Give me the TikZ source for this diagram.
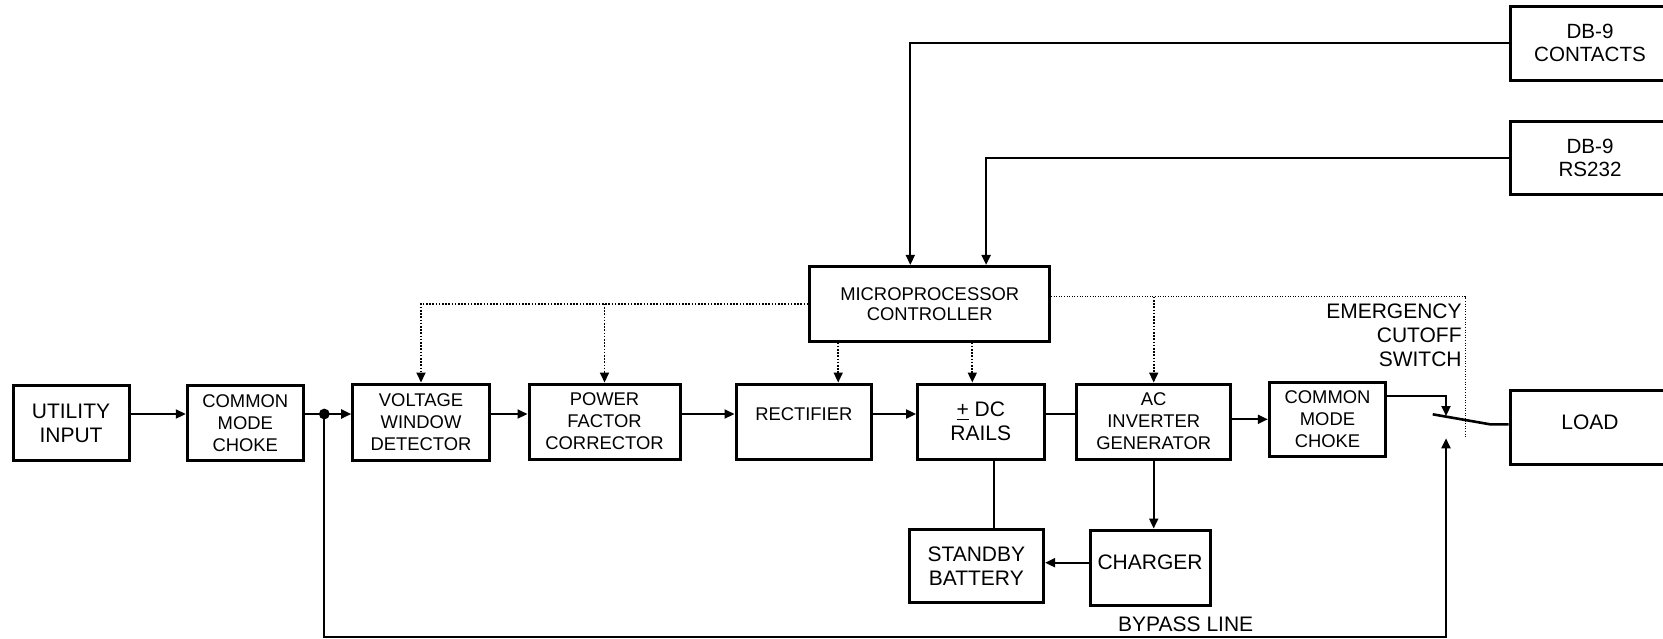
\documentclass[tikz,border=0pt]{standalone}
\usepackage{fontspec}
\setmainfont{Liberation Sans}
\usetikzlibrary{arrows.meta}
\begin{document}
\begin{tikzpicture}[x=0.5pt,y=-0.5pt,
    blocco/.style={draw, line width=1.5pt, align=center, inner sep=1pt, minimum height=37.5pt, font=\fontsize{9.2pt}{11pt}\selectfont},
    grande/.style={font=\fontsize{10.5pt}{12pt}\selectfont},
    filo/.style={line width=1pt},
    freccia/.style={filo, -{Triangle[length=5pt,width=4.5pt]}},
    ctrl/.style={freccia, line width=0.9pt, dash pattern=on 0.8pt off 0.8pt},
    fine/.style={line width=0.5pt, dash pattern=on 0.5pt off 0.8pt}]
    \useasboundingbox (0,0) rectangle (1663,638);

    % Nodi
    \node[blocco, grande, minimum width=58pt] (util) at (71,423) {UTILITY\\INPUT};
    \node[blocco, minimum width=58pt] (choke1) at (245.3,422.7) {COMMON\\MODE\\CHOKE};
    \node[blocco, minimum width=68.3pt, minimum height=38pt] (vwd) at (421,422) {VOLTAGE\\WINDOW\\DETECTOR};
    \node[blocco, minimum width=75.5pt] (pfc) at (604.5,421.5) {POWER\\FACTOR\\CORRECTOR};
    \node[blocco, minimum width=67.8pt, text depth=7.5pt] (rect) at (803.8,421.5) {RECTIFIER};
    \node[blocco, grande, minimum width=63.2pt] (dc) at (980.8,421.5) {\underline{+} DC\\RAILS};
    \node[blocco, minimum width=77pt] (inv) at (1153.7,421.5) {AC\\INVERTER\\GENERATOR};
    \node[blocco, minimum width=58.2pt, minimum height=37.3pt] (choke2) at (1327.5,419.3) {COMMON\\MODE\\CHOKE};
    \node[blocco, grande, minimum width=80pt, minimum height=36.8pt, text depth=5pt] (load) at (1590,427.5) {LOAD};
    \node[blocco, minimum width=119.8pt, minimum height=37.3pt, font=\fontsize{9.2pt}{10pt}\selectfont] (mc) at (929.7,303.7) {MICROPROCESSOR\\CONTROLLER};
    \node[blocco, minimum width=80pt, minimum height=37pt, font=\fontsize{10.3pt}{11.5pt}\selectfont] (db9c) at (1590,43) {DB-9\\CONTACTS};
    \node[blocco, minimum width=80pt, minimum height=36.2pt, font=\fontsize{10.3pt}{11.5pt}\selectfont] (db9r) at (1590,157.8) {DB-9\\RS232};
    \node[blocco, grande, minimum width=67.3pt, minimum height=36.8pt] (batt) at (976.3,565.8) {STANDBY\\BATTERY};
    \node[blocco, grande, minimum width=60pt, text depth=5pt] (chg) at (1150,567.5) {CHARGER};
    \node[grande, align=right, anchor=east, inner sep=0pt] (ecs) at (1462,335.7) {EMERGENCY\\CUTOFF\\SWITCH};
    \node[grande, inner sep=0pt] (bypass) at (1185.7,624.3) {BYPASS LINE};

    \coordinate (dot) at (324.3,414);
    \coordinate (swtop) at (1446,416);
    \coordinate (swa) at (1432.7,414.3);
    \coordinate (swb) at (1490,424.3);
    \coordinate (swbot) at (1446,438.3);
    \coordinate (bycorner) at (1446,636.7);
    \coordinate (emerg) at (1465.3,436.7);
    \coordinate (mcr) at ([yshift=3.5pt]mc.east);
    \coordinate (rtop) at ([xshift=17.2pt]rect.north);
    \coordinate (dtop) at ([xshift=-4.25pt]dc.north);
    \coordinate (bat) at ([xshift=6.6pt]dc.south);
    \coordinate (chl) at ([yshift=2.4pt]chg.west);

    % Archi
    \draw[freccia] (util.east |- dot) -- (choke1.west |- dot);
    \draw[filo] (choke1.east |- dot) -- (dot);
    \fill (dot) circle (2.7pt);
    \draw[freccia] (dot) -- (vwd.west |- dot);
    \draw[freccia] (vwd.east |- dot) -- (pfc.west |- dot);
    \draw[freccia] (pfc.east |- dot) -- (rect.west |- dot);
    \draw[freccia] (rect.east |- dot) -- (dc.west |- dot);
    \draw[filo] (dc.east |- dot) -- (inv.west |- dot);
    \draw[freccia] (inv.east |- choke2.west) -- (choke2.west);
    \draw[freccia] ([yshift=11.7pt]choke2.east) -| (swtop);
    \draw[line width=1.3pt] (swa) -- (swb) -- (swb -| load.west);
    \draw[freccia] (dot) |- (bycorner) -- (swbot);
    \draw[filo] (bat) -- (bat |- batt.north);
    \draw[freccia] (inv.south) -- (inv.south |- chg.north);
    \draw[freccia] (chl) -- (chl -| batt.east);
    \draw[freccia] (db9c.west) -| ([xshift=-9.7pt]mc.north);
    \draw[freccia] (db9r.west) -| ([xshift=28.2pt]mc.north);

    % Controllo
    \draw[ctrl] (mc.west) -| (vwd.north);
    \draw[ctrl] (pfc.north |- mc.west) -- (pfc.north);
    \draw[ctrl] (rtop |- mc.south) -- (rtop);
    \draw[ctrl] (dtop |- mc.south) -- (dtop);
    \draw[fine] (mcr) -| (emerg);
    \draw[ctrl] (inv.north |- mcr) -- (inv.north);
\end{tikzpicture}
\end{document}
